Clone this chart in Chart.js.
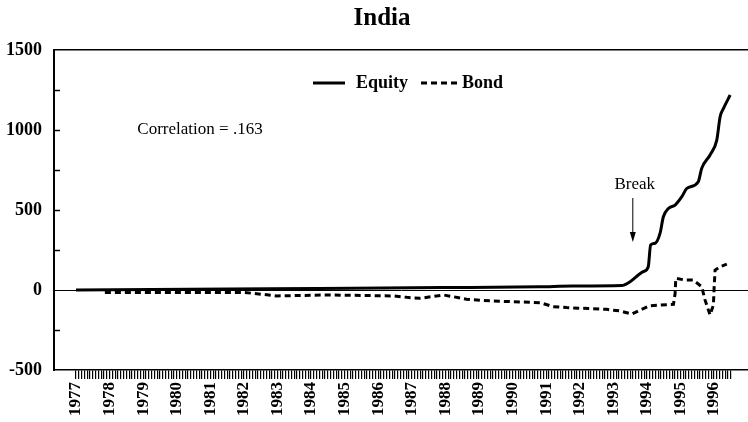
<!DOCTYPE html>
<html>
<head>
<meta charset="utf-8">
<script src="https://cdn.jsdelivr.net/npm/chart.js@4/dist/chart.umd.min.js"></script>
<style>
  html, body { margin: 0; padding: 0; background: #fff; }
</style>
</head>
<body>
<canvas id="grafico" width="748" height="422"></canvas>
<script>
// dados (anos em fração decimal)
const titulo = "India";
const nomesSeries = ["Equity", "Bond"];
const anosEquity = [1977.0, 1980.4, 1984.2, 1987.9, 1990.8, 1991.8, 1993.25, 1993.5, 1993.89, 1994.04, 1994.11, 1994.24, 1994.39, 1994.49, 1994.64, 1994.84, 1995.04, 1995.19, 1995.53, 1995.63, 1995.88, 1996.08, 1996.18, 1996.28, 1996.48];
const valoresEquity = [0, 5, 10, 15, 20, 25, 28, 52, 115, 146, 281, 292, 354, 458, 510, 531, 583, 635, 677, 760, 844, 937, 1083, 1135, 1219];
const anosBond = [1977.86, 1981.98, 1982.28, 1982.98, 1984.47, 1986.45, 1986.85, 1987.24, 1987.94, 1988.24, 1988.63, 1989.43, 1990.82, 1991.21, 1991.61, 1992.8, 1993.2, 1993.55, 1993.8, 1994.09, 1994.79, 1994.84, 1994.86, 1995.14, 1995.38, 1995.63, 1995.73, 1995.88, 1995.98, 1996.0, 1996.03, 1996.18, 1996.38];
const valoresBond = [-15, -15, -21, -37, -31, -37, -46, -52, -31, -42, -58, -69, -79, -104, -110, -121, -131, -150, -125, -98, -90, -21, 73, 62, 62, 21, -62, -156, -94, 10, 125, 146, 162];
const ticksY = [-500, 0, 500, 1000, 1500];
const primeiroAno = 1977;
const ultimoAno = 1996;
const textoCorrelacao = "Correlation = .163";
const textoQuebra = "Break";

const serif = "'Liberation Serif', 'DejaVu Serif', serif";

function pontos(xs, ys) {
    return xs.map((x, i) => ({ x: x, y: ys[i] }));
}

// textos, legenda e marcas internas do eixo Y
const anotacoes = {
    id: "anotacoes",
    afterDraw(chart) {
        const ctx = chart.ctx;
        const x = chart.scales.x;
        const y = chart.scales.y;
        const area = chart.chartArea;
        ctx.save();
        ctx.fillStyle = "#000";
        ctx.strokeStyle = "#000";

        // título
        ctx.font = "bold 25px " + serif;
        ctx.textAlign = "center";
        ctx.textBaseline = "middle";
        ctx.fillText(titulo, 382, 19);

        // marcas curtas para dentro no eixo Y
        ctx.lineWidth = 1.5;
        for (let v = -250; v <= 1250; v += 250) {
            if (v === 0) continue;
            const py = Math.round(y.getPixelForValue(v)) + 0.5;
            ctx.beginPath();
            ctx.moveTo(area.left, py);
            ctx.lineTo(area.left + 6, py);
            ctx.stroke();
        }

        // legenda
        const ly = 83;
        ctx.font = "bold 18px " + serif;
        ctx.textAlign = "left";
        let lx = 313;
        chart.data.datasets.forEach((ds, i) => {
            const comp = i === 0 ? 32 : 38;
            ctx.lineWidth = ds.borderWidth;
            ctx.setLineDash(ds.borderDash || []);
            ctx.beginPath();
            ctx.moveTo(lx, ly);
            ctx.lineTo(lx + comp, ly);
            ctx.stroke();
            ctx.setLineDash([]);
            lx += comp + (i === 0 ? 11 : 3);
            ctx.fillText(ds.label, lx, ly);
            lx += ctx.measureText(ds.label).width + 13;
        });

        // correlação
        ctx.font = "17px " + serif;
        ctx.textAlign = "center";
        ctx.fillText(textoCorrelacao, 200, y.getPixelForValue(1000));

        // quebra com seta
        const bx = x.getPixelForValue(1993.58);
        ctx.fillText(textoQuebra, bx + 2, y.getPixelForValue(660));
        const y1 = y.getPixelForValue(575);
        const y2 = y.getPixelForValue(300);
        ctx.lineWidth = 1;
        ctx.beginPath();
        ctx.moveTo(bx, y1);
        ctx.lineTo(bx, y2 - 8);
        ctx.stroke();
        ctx.beginPath();
        ctx.moveTo(bx - 3, y2 - 10);
        ctx.lineTo(bx + 3, y2 - 10);
        ctx.lineTo(bx, y2);
        ctx.closePath();
        ctx.fill();
        ctx.restore();
    }
};

const ctxGrafico = document.getElementById("grafico").getContext("2d");

new Chart(ctxGrafico, {
    type: "line",
    data: {
        datasets: [
            {
                label: nomesSeries[0],
                data: pontos(anosEquity, valoresEquity),
                borderColor: "#000",
                borderWidth: 3,
                pointRadius: 0,
                cubicInterpolationMode: "monotone",
                fill: false
            },
            {
                label: nomesSeries[1],
                data: pontos(anosBond, valoresBond),
                borderColor: "#000",
                borderWidth: 3,
                borderDash: [6, 4],
                pointRadius: 0,
                fill: false
            }
        ]
    },
    options: {
        responsive: false,
        animation: false,
        layout: { padding: { top: 50, left: 0, right: 0, bottom: 0 } },
        plugins: {
            legend: { display: false },
            tooltip: { enabled: false }
        },
        scales: {
            x: {
                type: "linear",
                min: 1976.345,
                max: 1997.01,
                afterFit(scale) {
                    scale.height = 52;
                    scale.paddingLeft = 0;
                    scale.paddingRight = 0;
                },
                afterBuildTicks(scale) {
                    // marcas mensais
                    const t = [];
                    for (let m = 0; m <= (ultimoAno - primeiroAno) * 12 + 6; m++) {
                        t.push({ value: primeiroAno + m / 12 });
                    }
                    scale.ticks = t;
                },
                ticks: {
                    autoSkip: false,
                    minRotation: 90,
                    maxRotation: 90,
                    padding: 3,
                    color: "#000",
                    font: { family: serif, size: 17, weight: "bold" },
                    callback(v) {
                        return Math.abs(v - Math.round(v)) < 1e-6 ? String(Math.round(v)) : "";
                    }
                },
                grid: {
                    drawOnChartArea: false,
                    drawTicks: true,
                    tickLength: 9,
                    color: "#000",
                    lineWidth: 1.2
                },
                border: { color: "#000", width: 1.5 }
            },
            y: {
                min: ticksY[0],
                max: ticksY[ticksY.length - 1],
                afterFit(scale) {
                    scale.width = 54;
                    scale.paddingTop = 0;
                    scale.paddingBottom = 0;
                },
                afterBuildTicks(scale) {
                    scale.ticks = ticksY.map(v => ({ value: v }));
                },
                ticks: {
                    padding: 12,
                    color: "#000",
                    font: { family: serif, size: 18, weight: "bold" },
                    callback: v => String(v)
                },
                grid: {
                    drawTicks: false,
                    color(c) {
                        const v = c.tick && c.tick.value;
                        return (v === 0 || v === 1500) ? "#000" : "rgba(0,0,0,0)";
                    },
                    lineWidth(c) {
                        const v = c.tick && c.tick.value;
                        return v === 1500 ? 1.5 : 1;
                    }
                },
                border: { color: "#000", width: 2 }
            }
        }
    },
    plugins: [anotacoes]
});
</script>
</body>
</html>
